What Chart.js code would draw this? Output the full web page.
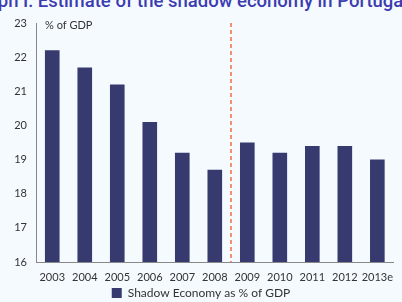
<!DOCTYPE html>
<html>
<head>
<meta charset="utf-8">
<script src="https://cdn.jsdelivr.net/npm/chart.js@4"></script>
<style>
  html, body { margin: 0; padding: 0; background: #f5faff; overflow: hidden; }
  #wrap { position: relative; width: 402px; height: 302px; }
  #title { position: absolute; left: -31px; top: -10px; white-space: nowrap;
           font: 500 18.5px Roboto, Arial, sans-serif; color: #3c3cb0; }
  canvas { position: absolute; left: 0; top: 0; }
</style>
</head>
<body>
<div id="wrap">
  <div id="title">Graph I: Estimate of the shadow economy in Portugal</div>
  <canvas id="chart" width="402" height="302"></canvas>
</div>
<script>
const years = ['2003', '2004', '2005', '2006', '2007', '2008', '2009', '2010', '2011', '2012', '2013e'];
const shadowShare = [22.2, 21.7, 21.2, 20.1, 19.2, 18.7, 19.5, 19.2, 19.4, 19.4, 19.0];
const yTicks = [16, 17, 18, 19, 20, 21, 22, 23];

// dashed line between 2008 and 2009, plus "% of GDP" label
const extras = {
    id: 'extras',
    afterDatasetsDraw(chart) {
        const { ctx, chartArea, scales: { x } } = chart;
        const i = years.indexOf('2009');
        const lx = Math.round((x.getPixelForValue(i - 1) + x.getPixelForValue(i)) / 2);
        ctx.save();
        ctx.strokeStyle = '#f0582a';
        ctx.lineWidth = 1.3;
        ctx.setLineDash([4, 3]);
        ctx.beginPath();
        ctx.moveTo(lx, chartArea.top);
        ctx.lineTo(lx, chartArea.bottom);
        ctx.stroke();
        ctx.setLineDash([]);
        ctx.fillStyle = '#333';
        ctx.font = '11px Lato, sans-serif';
        ctx.textBaseline = 'middle';
        ctx.fillText('% of GDP', chartArea.left + 9, chartArea.top + 2);
        ctx.restore();
    }
};

new Chart(document.getElementById('chart').getContext('2d'), {
    type: 'bar',
    data: {
        labels: years,
        datasets: [{
            label: 'Shadow Economy as % of GDP',
            data: shadowShare,
            backgroundColor: '#363a6e',
            barPercentage: 0.9,
            categoryPercentage: 0.5
        }]
    },
    options: {
        responsive: false,
        animation: false,
        layout: { padding: { top: 23, right: 0, left: 0, bottom: -7 } },
        plugins: {
            legend: {
                position: 'bottom',
                labels: {
                    boxWidth: 10, boxHeight: 10, padding: 3,
                    color: '#333', font: { family: 'Lato', size: 12 }
                }
            },
            tooltip: { enabled: false }
        },
        scales: {
            x: {
                afterFit: s => { s.height = 22; },
                grid: { display: false, drawTicks: false },
                border: { color: '#888' },
                ticks: { color: '#333', font: { family: 'Lato', size: 11 }, padding: 9, maxRotation: 0, autoSkip: false }
            },
            y: {
                min: 16, max: 23,
                afterBuildTicks: s => { s.ticks = yTicks.map(v => ({ value: v })); },
                afterFit: s => { s.width = 36; },
                grid: { display: false, drawTicks: false },
                border: { color: '#888' },
                ticks: { color: '#333', font: { family: 'Lato', size: 11 }, padding: 9 }
            }
        }
    },
    plugins: [extras]
});
</script>
</body>
</html>
